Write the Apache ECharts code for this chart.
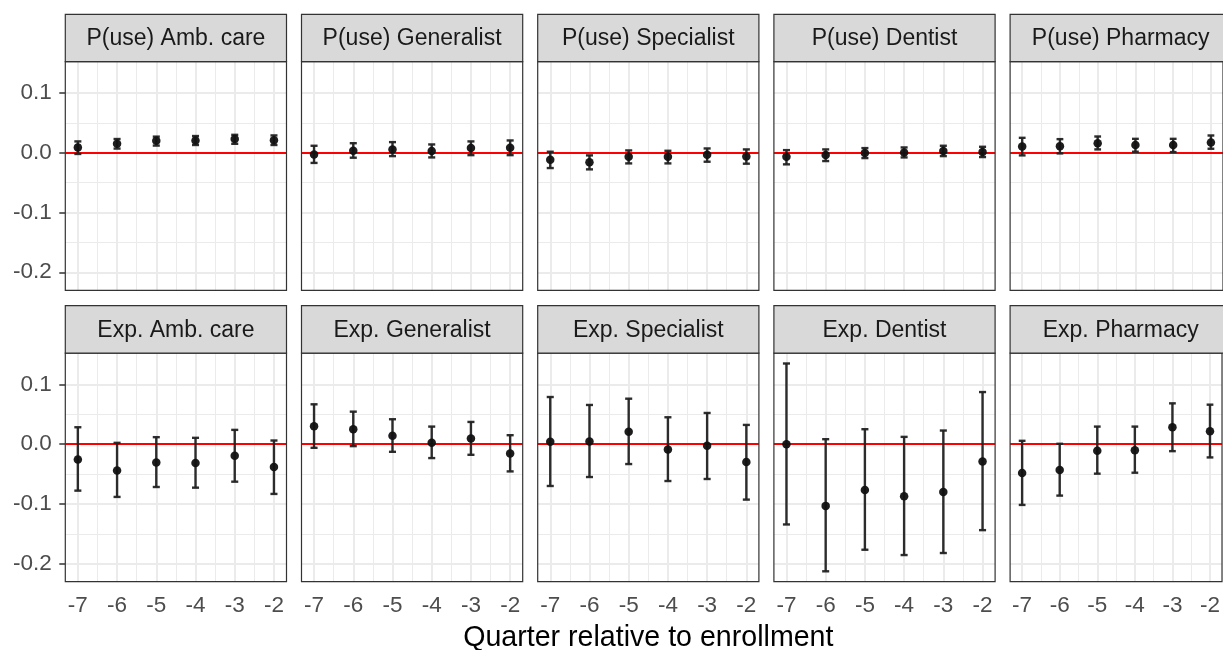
<!DOCTYPE html>
<html>
<head>
<meta charset="utf-8">
<script src="https://cdn.jsdelivr.net/npm/echarts@6/dist/echarts.min.js"></script>
<style>
html,body{margin:0;padding:0;background:#fff;}
#chart{width:1223px;height:650px;}
</style>
</head>
<body>
<div id="chart"></div>
<script>
// ---------- DATA ----------
const quarters = [-7, -6, -5, -4, -3, -2];
const xTickLabels = [-7, -6, -5, -4, -3, -2];
const xMinorTicks = [-6.5, -5.5, -4.5, -3.5, -2.5];
const yTicks = [-0.2, -0.1, 0, 0.1];
const yMinorTicks = [-0.15, -0.05, 0.05];
const xAxisTitle = 'Quarter relative to enrollment';

const panelTitles = [
  'P(use) Amb. care', 'P(use) Generalist', 'P(use) Specialist', 'P(use) Dentist', 'P(use) Pharmacy',
  'Exp. Amb. care', 'Exp. Generalist', 'Exp. Specialist', 'Exp. Dentist', 'Exp. Pharmacy'
];

// P(use) row
const pAmbEst = [0.009, 0.015, 0.020, 0.0205, 0.023, 0.021];
const pAmbLo  = [-0.002, 0.007, 0.012, 0.013, 0.015, 0.013];
const pAmbHi  = [0.019, 0.023, 0.027, 0.028, 0.030, 0.029];

const pGenEst = [-0.003, 0.0035, 0.0056, 0.003, 0.0078, 0.0083];
const pGenLo  = [-0.017, -0.0083, -0.0056, -0.0078, -0.004, -0.004];
const pGenHi  = [0.0117, 0.016, 0.0178, 0.0139, 0.019, 0.0206];

const pSpeEst = [-0.0117, -0.016, -0.0067, -0.0067, -0.0033, -0.0061];
const pSpeLo  = [-0.0256, -0.0278, -0.0178, -0.0178, -0.015, -0.0183];
const pSpeHi  = [0.0017, -0.0044, 0.0039, 0.0033, 0.0072, 0.0056];

const pDenEst = [-0.0067, -0.0039, -0.0006, 0.0006, 0.0028, 0.0011];
const pDenLo  = [-0.0194, -0.0139, -0.0089, -0.0078, -0.0056, -0.0072];
const pDenHi  = [0.0044, 0.0056, 0.0078, 0.0089, 0.0117, 0.010];

const pPhaEst = [0.0106, 0.0111, 0.0161, 0.0128, 0.0128, 0.0172];
const pPhaLo  = [-0.0044, -0.0011, 0.0056, 0.0017, 0.0011, 0.0067];
const pPhaHi  = [0.025, 0.0228, 0.0272, 0.0233, 0.0233, 0.0289];

// Expenditure row
const eAmbEst = [-0.0256, -0.0439, -0.0306, -0.0317, -0.0194, -0.0383];
const eAmbLo  = [-0.0778, -0.0883, -0.0717, -0.0728, -0.0628, -0.0833];
const eAmbHi  = [0.0283, 0.0022, 0.0117, 0.0106, 0.0239, 0.0061];

const eGenEst = [0.030, 0.025, 0.0139, 0.0022, 0.0094, -0.0156];
const eGenLo  = [-0.0061, -0.0033, -0.0128, -0.0233, -0.0178, -0.0456];
const eGenHi  = [0.0667, 0.0544, 0.0417, 0.0294, 0.0372, 0.015];

const eSpeEst = [0.0039, 0.0044, 0.0206, -0.0089, -0.0028, -0.030];
const eSpeLo  = [-0.070, -0.055, -0.0333, -0.0617, -0.0583, -0.0928];
const eSpeHi  = [0.0789, 0.0656, 0.0761, 0.045, 0.0522, 0.0322];

const eDenEst = [0.000, -0.1033, -0.0767, -0.0872, -0.080, -0.0289];
const eDenLo  = [-0.1344, -0.2128, -0.1767, -0.1856, -0.1822, -0.1439];
const eDenHi  = [0.135, 0.0083, 0.025, 0.0122, 0.0228, 0.0872];

const ePhaEst = [-0.0483, -0.0433, -0.0111, -0.010, 0.0283, 0.0217];
const ePhaLo  = [-0.1017, -0.0861, -0.0494, -0.0478, -0.0117, -0.0222];
const ePhaHi  = [0.0056, 0.0006, 0.0294, 0.0294, 0.0683, 0.0661];

const panelEst = [pAmbEst, pGenEst, pSpeEst, pDenEst, pPhaEst, eAmbEst, eGenEst, eSpeEst, eDenEst, ePhaEst];
const panelLo  = [pAmbLo,  pGenLo,  pSpeLo,  pDenLo,  pPhaLo,  eAmbLo,  eGenLo,  eSpeLo,  eDenLo,  ePhaLo];
const panelHi  = [pAmbHi,  pGenHi,  pSpeHi,  pDenHi,  pPhaHi,  eAmbHi,  eGenHi,  eSpeHi,  eDenHi,  ePhaHi];
const refLine = 0;

// ---------- LAYOUT ----------
const FONT = "'Liberation Sans', Arial, Helvetica, sans-serif";
const colLeft = [65.3, 301.5, 537.7, 773.9, 1010.1];
const panelW = 221.2;
const rowStripTop = [14.3, 305.7];
const stripH = 47.4;
const rowPlotTop = [61.7, 353.1];
const plotH = 228.6;
const X_MIN = -7.32, X_MAX = -1.68;
const Y_MIN = -0.2302, Y_MAX = 0.1524;
const capHalf = 0.09;

const grids = [], xAxes = [], yAxes = [], series = [], graphics = [];

for (let p = 0; p < 10; p++) {
  const row = Math.floor(p / 5), col = p % 5;
  const left = colLeft[col];
  grids.push({
    left: left, top: rowPlotTop[row], width: panelW, height: plotH,
    show: true, backgroundColor: 'transparent', borderColor: '#333333', borderWidth: 1.2,
    containLabel: false, z: 10
  });
  const bottomRow = row === 1;
  xAxes.push({
    type: 'value', gridIndex: p, min: X_MIN, max: X_MAX,
    axisLine: { show: false }, splitLine: { show: false },
    axisTick: { show: bottomRow, customValues: xTickLabels, length: 6, lineStyle: { color: '#333333', width: 1.5 } },
    axisLabel: { show: bottomRow, customValues: xTickLabels, margin: 13, fontSize: 22.5, color: '#4D4D4D', fontFamily: FONT,
      formatter: v => String(v) }
  });
  const firstCol = col === 0;
  yAxes.push({
    type: 'value', gridIndex: p, min: Y_MIN, max: Y_MAX,
    axisLine: { show: false }, splitLine: { show: false },
    axisTick: { show: firstCol, customValues: yTicks, length: 6, lineStyle: { color: '#333333', width: 1.5 } },
    axisLabel: { show: firstCol, customValues: yTicks, margin: 13.5, fontSize: 22.5, color: '#4D4D4D', fontFamily: FONT,
      formatter: v => v.toFixed(1) }
  });

  // gridlines (minor then major)
  series.push({
    type: 'line', xAxisIndex: p, yAxisIndex: p, data: [], silent: true,
    markLine: {
      silent: true, symbol: 'none', z: 1, animation: false,
      label: { show: false },
      lineStyle: { color: '#EBEBEB', width: 1, type: 'solid' },
      emphasis: { disabled: true },
      data: xMinorTicks.map(v => ({ xAxis: v })).concat(yMinorTicks.map(v => ({ yAxis: v })))
    }
  });
  series.push({
    type: 'line', xAxisIndex: p, yAxisIndex: p, data: [], silent: true,
    markLine: {
      silent: true, symbol: 'none', z: 2, animation: false,
      label: { show: false },
      lineStyle: { color: '#EBEBEB', width: 2, type: 'solid' },
      emphasis: { disabled: true },
      data: xTickLabels.map(v => ({ xAxis: v })).concat(yTicks.map(v => ({ yAxis: v })))
    }
  });
  // red reference line
  series.push({
    type: 'line', xAxisIndex: p, yAxisIndex: p, data: [], silent: true,
    markLine: {
      silent: true, symbol: 'none', z: 3, animation: false,
      label: { show: false },
      lineStyle: { color: '#FF0000', width: 2, type: 'solid' },
      emphasis: { disabled: true },
      data: [{ yAxis: refLine }]
    }
  });
  // error bars
  const ebData = quarters.map((q, i) => [q, panelLo[p][i], panelHi[p][i]]);
  series.push({
    type: 'custom', xAxisIndex: p, yAxisIndex: p, z: 4, silent: true,
    data: ebData,
    renderItem: function (params, api) {
      const x = api.value(0), lo = api.value(1), hi = api.value(2);
      const pLo = api.coord([x, lo]), pHi = api.coord([x, hi]);
      const cL = api.coord([x - capHalf, lo]), cR = api.coord([x + capHalf, lo]);
      const tL = api.coord([x - capHalf, hi]), tR = api.coord([x + capHalf, hi]);
      const st = { stroke: '#222222', lineWidth: 2.4, opacity: 0.95 };
      return {
        type: 'group',
        children: [
          { type: 'line', shape: { x1: pLo[0], y1: pLo[1], x2: pHi[0], y2: pHi[1] }, style: st },
          { type: 'line', shape: { x1: cL[0], y1: cL[1], x2: cR[0], y2: cR[1] }, style: st },
          { type: 'line', shape: { x1: tL[0], y1: tL[1], x2: tR[0], y2: tR[1] }, style: st }
        ]
      };
    }
  });
  // point estimates
  series.push({
    type: 'scatter', xAxisIndex: p, yAxisIndex: p, z: 5, silent: true,
    symbol: 'circle', symbolSize: 8.5,
    itemStyle: { color: '#111111', opacity: 0.95 },
    data: quarters.map((q, i) => [q, panelEst[p][i]])
  });

  // strip
  graphics.push({
    type: 'rect', z: 20,
    shape: { x: left, y: rowStripTop[row], width: panelW, height: stripH },
    style: { fill: '#D9D9D9', stroke: '#333333', lineWidth: 1.2 }
  });
  graphics.push({
    type: 'text', z: 21,
    x: left + panelW / 2, y: rowStripTop[row] + stripH / 2 + 1,
    style: { text: panelTitles[p], fontSize: 23, fontFamily: FONT, fill: '#1A1A1A', align: 'center', verticalAlign: 'middle' }
  });
}

graphics.push({
  type: 'text', z: 21,
  x: (colLeft[0] + colLeft[4] + panelW) / 2, y: 638,
  style: { text: xAxisTitle, fontSize: 28.6, fontFamily: FONT, fill: '#000000', align: 'center', verticalAlign: 'middle' }
});

const chart = echarts.init(document.getElementById('chart'), null, { renderer: 'canvas' });
chart.setOption({
  animation: false,
  backgroundColor: '#FFFFFF',
  grid: grids,
  xAxis: xAxes,
  yAxis: yAxes,
  series: series,
  graphic: graphics
});
</script>
</body>
</html>
